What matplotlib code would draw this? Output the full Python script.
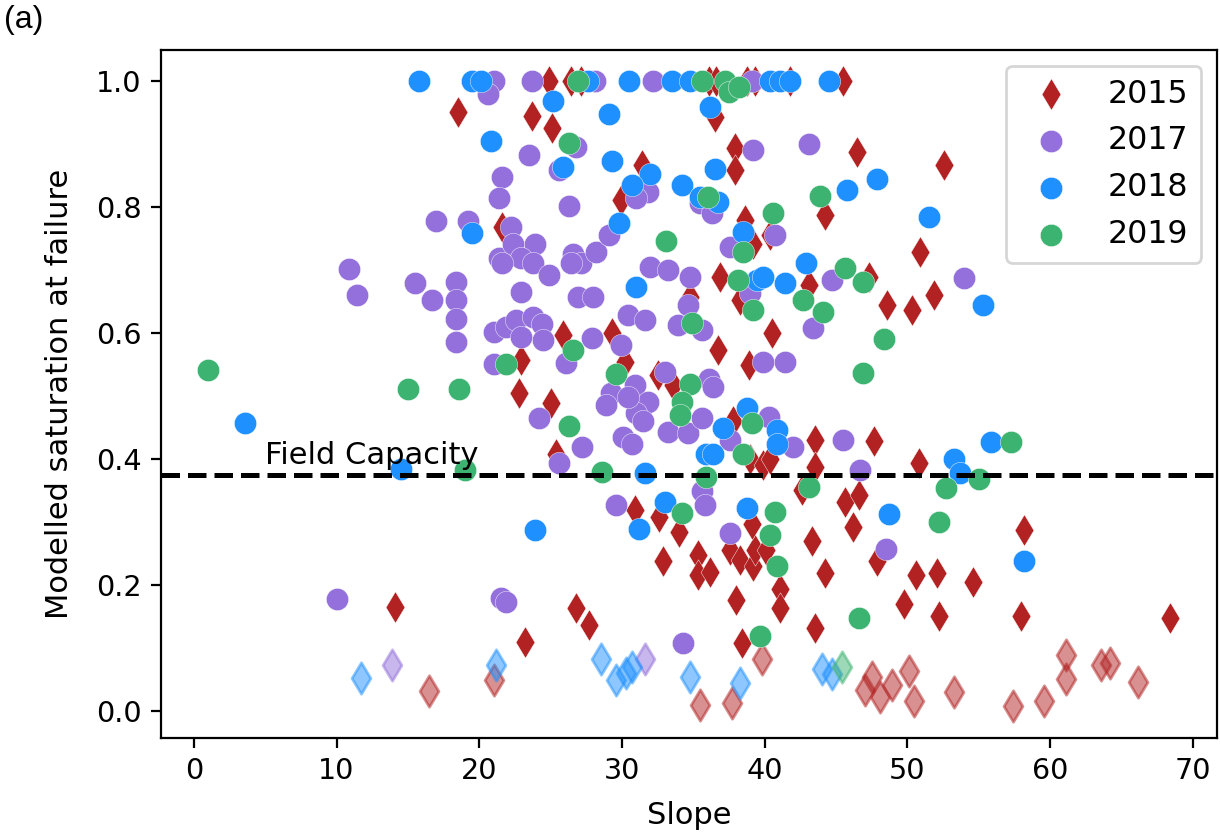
import matplotlib
matplotlib.use("Agg")
import matplotlib.pyplot as plt
import numpy as np

YEARS = ["2015", "2017", "2018", "2019"]
COLORS = {"2015": "#b22222", "2017": "#9370db", "2018": "#1e90ff", "2019": "#3cb371"}
MARKERS = {"2015": "d", "2017": "o", "2018": "o", "2019": "o"}

# slope / modelled saturation at failure, per year
slope_2015 = [18.5, 21.6, 14.1, 24.9, 26.4, 27.1, 36.1, 36.6, 38.8, 39.3, 41.8, 45.5,
              36.5, 23.7, 25.1, 37.9, 37.9, 31.4, 29.9, 36.9, 43.1, 38.6, 39.2, 40.4,
              44.2, 34.8, 46.5, 52.6, 50.9, 47.3, 48.6, 50.3, 51.9, 47.7, 50.8, 45.6,
              46.6, 46.2, 58.2, 47.9, 50.6, 52.1, 54.6, 49.8, 52.2, 58.0, 68.4, 43.3,
              32.9, 35.3, 35.3, 36.2, 37.6, 38.3, 39.2, 39.3, 40.1, 41.1, 41.1, 38.0,
              44.2, 43.5, 38.4, 26.8, 27.7, 23.2, 22.9, 22.8, 25.9, 29.3, 30.2, 32.5,
              33.6, 25.0, 25.4, 37.8, 39.0, 39.9, 40.4, 43.5, 43.5, 42.6, 30.9, 32.6,
              34.0, 39.1, 38.3, 40.5, 36.7, 38.9]
sat_2015 = [0.951, 0.769, 0.165, 1.0, 1.0, 1.0, 1.0, 1.0, 1.0, 1.0, 1.0, 1.0,
            0.943, 0.944, 0.925, 0.893, 0.859, 0.867, 0.811, 0.689, 0.676, 0.779, 0.742, 0.755,
            0.787, 0.658, 0.888, 0.867, 0.728, 0.689, 0.645, 0.637, 0.66, 0.429, 0.394, 0.333,
            0.343, 0.293, 0.288, 0.238, 0.216, 0.219, 0.206, 0.17, 0.152, 0.151, 0.149, 0.27,
            0.238, 0.248, 0.216, 0.222, 0.256, 0.24, 0.23, 0.256, 0.256, 0.195, 0.164, 0.177,
            0.219, 0.132, 0.108, 0.164, 0.137, 0.111, 0.557, 0.505, 0.597, 0.6, 0.555, 0.534,
            0.518, 0.489, 0.409, 0.46, 0.401, 0.391, 0.401, 0.43, 0.388, 0.351, 0.319, 0.309,
            0.285, 0.298, 0.652, 0.6, 0.573, 0.549]

slope_2017 = [21.0, 20.6, 21.6, 21.4, 17.0, 19.2, 21.4, 10.9, 15.5, 18.4, 11.4, 16.7,
              18.4, 18.4, 18.4, 21.0, 21.0, 10.0, 21.5, 21.9, 23.7, 28.1, 32.2, 39.1,
              26.8, 23.5, 39.2, 43.1, 25.6, 31.8, 31.0, 35.5, 36.3, 26.3, 22.2, 22.4,
              23.9, 22.9, 23.8, 24.9, 21.6, 26.6, 27.1, 26.4, 28.2, 29.1, 32.0, 33.2,
              34.8, 26.9, 28.0, 22.9, 37.6, 40.7, 44.7, 54.0, 45.5, 46.7, 48.5, 30.4,
              31.6, 34.6, 33.9, 35.6, 21.9, 22.6, 23.8, 24.4, 24.5, 22.9, 26.1, 27.9,
              29.9, 29.2, 28.9, 30.9, 31.8, 31.0, 31.5, 30.1, 30.7, 30.4, 33.0, 36.1,
              36.4, 24.2, 27.2, 25.6, 33.2, 34.6, 35.6, 40.3, 37.6, 42.0, 35.6, 35.8,
              29.6, 37.6, 34.3, 39.0, 43.4, 39.9, 41.4]
sat_2017 = [1.0, 0.98, 0.848, 0.814, 0.778, 0.778, 0.719, 0.702, 0.679, 0.681, 0.66, 0.652,
            0.652, 0.623, 0.586, 0.602, 0.551, 0.179, 0.18, 0.173, 1.0, 1.0, 1.0, 1.0,
            0.896, 0.882, 0.89, 0.9, 0.859, 0.824, 0.814, 0.806, 0.79, 0.802, 0.769, 0.742,
            0.742, 0.719, 0.711, 0.692, 0.711, 0.726, 0.711, 0.711, 0.729, 0.755, 0.705, 0.70,
            0.689, 0.657, 0.657, 0.666, 0.737, 0.755, 0.684, 0.687, 0.43, 0.383, 0.257, 0.629,
            0.621, 0.645, 0.613, 0.605, 0.61, 0.621, 0.626, 0.615, 0.589, 0.594, 0.552, 0.592,
            0.581, 0.505, 0.486, 0.518, 0.491, 0.473, 0.46, 0.436, 0.425, 0.499, 0.539, 0.528,
            0.515, 0.465, 0.42, 0.394, 0.444, 0.441, 0.465, 0.467, 0.43, 0.42, 0.349, 0.327,
            0.327, 0.283, 0.109, 0.663, 0.608, 0.555, 0.555]

slope_2018 = [15.8, 19.5, 20.1, 20.8, 19.5, 3.6, 14.5, 27.6, 30.5, 33.5, 34.8, 40.4,
              41.1, 41.8, 44.5, 25.2, 36.2, 29.1, 29.3, 25.9, 32.0, 30.7, 34.2, 36.5,
              35.5, 36.7, 29.8, 31.0, 39.5, 39.9, 41.4, 42.9, 38.5, 45.8, 47.9, 51.5,
              55.3, 53.3, 53.7, 55.9, 48.7, 58.2, 23.9, 31.2, 31.6, 37.1, 35.9, 36.4,
              38.8, 40.9, 40.9, 33.0, 38.8]
sat_2018 = [1.0, 1.0, 1.0, 0.905, 0.759, 0.458, 0.385, 1.0, 1.0, 1.0, 1.0, 1.0,
            1.0, 1.0, 1.0, 0.968, 0.959, 0.948, 0.873, 0.863, 0.853, 0.835, 0.835, 0.861,
            0.816, 0.808, 0.774, 0.673, 0.684, 0.689, 0.679, 0.711, 0.761, 0.827, 0.845, 0.785,
            0.645, 0.4, 0.379, 0.428, 0.314, 0.239, 0.288, 0.29, 0.378, 0.449, 0.409, 0.409,
            0.481, 0.446, 0.425, 0.333, 0.322]

slope_2019 = [1.0, 15.0, 18.6, 19.0, 21.9, 26.9, 35.6, 37.2, 37.5, 38.2, 26.3, 36.0,
              33.1, 38.1, 38.5, 40.6, 43.9, 42.7, 45.6, 46.9, 48.4, 46.9, 57.3, 55.0,
              52.7, 52.2, 46.6, 40.9, 39.7, 40.4, 34.9, 26.6, 29.6, 34.8, 34.2, 34.1,
              26.3, 28.6, 39.1, 38.5, 35.9, 43.1, 34.2, 40.7, 39.2, 44.1]
sat_2019 = [0.541, 0.512, 0.512, 0.383, 0.551, 1.0, 1.0, 1.0, 0.983, 0.99, 0.902, 0.816,
            0.746, 0.684, 0.729, 0.79, 0.817, 0.652, 0.703, 0.681, 0.59, 0.537, 0.428, 0.368,
            0.354, 0.301, 0.149, 0.23, 0.12, 0.28, 0.616, 0.574, 0.536, 0.52, 0.491, 0.47,
            0.453, 0.38, 0.458, 0.409, 0.372, 0.356, 0.315, 0.317, 0.637, 0.634]

# faded diamonds near the bottom
faded_slope = {
    "2015": [16.5, 21.0, 35.5, 37.7, 39.8, 47.5, 47.0, 48.1, 48.9, 50.1, 50.5, 53.3,
             57.4, 59.6, 61.1, 61.1, 63.6, 64.2, 66.2],
    "2017": [13.9, 31.6],
    "2018": [11.7, 21.2, 28.5, 29.6, 30.3, 30.7, 34.8, 38.3, 44.0, 44.7],
    "2019": [45.4],
}
faded_sat = {
    "2015": [0.033, 0.05, 0.01, 0.013, 0.084, 0.055, 0.034, 0.023, 0.042, 0.065, 0.016, 0.031,
             0.008, 0.016, 0.09, 0.051, 0.074, 0.077, 0.047],
    "2017": [0.073, 0.084],
    "2018": [0.053, 0.074, 0.084, 0.05, 0.061, 0.071, 0.055, 0.045, 0.068, 0.06],
    "2019": [0.07],
}

FIELD_CAPACITY = 0.375

slopes = {"2015": slope_2015, "2017": slope_2017, "2018": slope_2018, "2019": slope_2019}
sats = {"2015": sat_2015, "2017": sat_2017, "2018": sat_2018, "2019": sat_2019}

plt.rcParams.update({"font.family": "DejaVu Sans", "font.size": 10})
fig = plt.figure(figsize=(6.1, 4.175), dpi=200)
ax = fig.add_axes([0.132, 0.1162, 0.8655, 0.8238])

for yr in YEARS:
    ax.scatter(faded_slope[yr], faded_sat[yr], marker="d", s=64, color=COLORS[yr],
               alpha=0.5, edgecolors=COLORS[yr], linewidths=1.0)

for yr in YEARS:
    ax.scatter(slopes[yr], sats[yr], marker=MARKERS[yr], s=64, color=COLORS[yr],
               edgecolors="white", linewidths=0.15, label=yr)

ax.axhline(FIELD_CAPACITY, color="k", linestyle="--", linewidth=1.8)
ax.text(5, 0.392, "Field Capacity", fontsize=11, va="baseline")

ax.set_xlim(-2.3, 71.7)
ax.set_ylim(-0.042, 1.049)
ax.set_xticks(np.arange(0, 71, 10))
ax.set_yticks(np.arange(0, 1.01, 0.2))
ax.tick_params(labelsize=10.3)
ax.set_xlabel("Slope", fontsize=11, labelpad=5.5)
ax.set_ylabel("Modelled saturation at failure", fontsize=11, labelpad=8)
ax.legend(loc="upper right", fontsize=11.4)

fig.text(0.003, 0.994, "(a)", fontsize=11.5, family="Liberation Sans", va="top", ha="left")

fig.savefig("out.png", dpi=200)
